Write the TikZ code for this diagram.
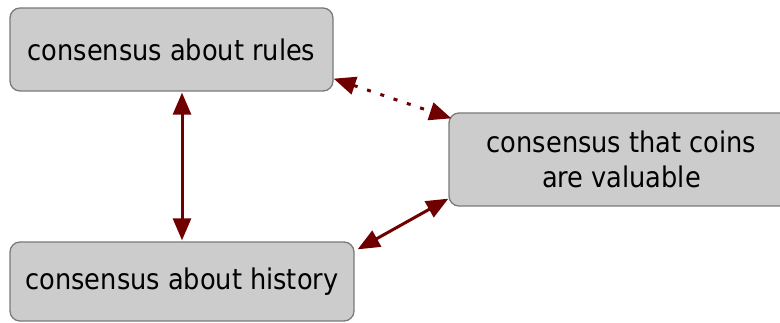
\documentclass[tikz,border=0pt]{standalone}
\usepackage{fontspec}
\setmainfont{DejaVu Sans Condensed}
\usetikzlibrary{arrows.meta}
\definecolor{boxfill}{HTML}{CCCCCC}
\definecolor{boxline}{HTML}{7A7A7A}
\definecolor{arrowred}{HTML}{700000}
\tikzset{
  cbox/.style={draw=boxline, line width=1.3pt, fill=boxfill, rounded corners=10pt,
    align=center, inner sep=0pt, font=\fontsize{28.5}{35}\selectfont},
  link/.style={draw=arrowred, line width=3pt,
    {Triangle[length=22pt,width=18pt]}-{Triangle[length=22pt,width=18pt]}},
  dotlink/.style={link, dash pattern=on 4pt off 10pt}
}
\begin{document}
\begin{tikzpicture}[x=1pt,y=-1pt]
\useasboundingbox (0,0) rectangle (780,323);
\node[cbox, minimum width=323pt, minimum height=83pt] (rules) at (171.5,49.5) {consensus about rules};
\node[cbox, minimum width=345pt, minimum height=93pt] (coins) at (621.5,159.5) {consensus that coins\\are valuable};
\node[cbox, minimum width=344pt, minimum height=79pt] (hist) at (182,281.5) {consensus about history};
\draw[link] ([yshift=-1pt]rules.south -| hist.north) -- ([yshift=1pt]hist.north);
\draw[dotlink] ([yshift=13pt]rules.south east) -- ([xshift=3pt,yshift=-6pt]coins.north west);
\draw[link] ([xshift=3pt,yshift=-8pt]hist.north east) -- ([yshift=8pt]coins.south west);
\end{tikzpicture}
\end{document}
